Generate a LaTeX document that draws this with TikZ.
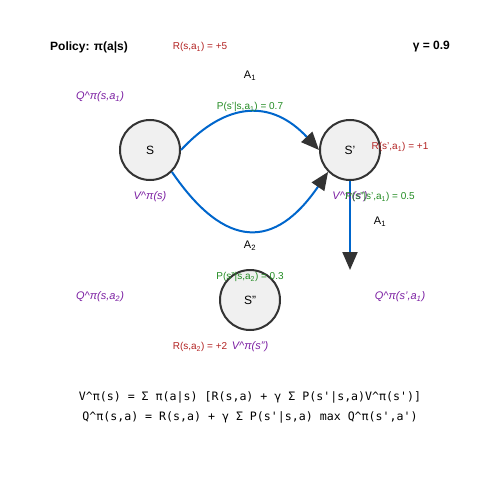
\documentclass[tikz,border=0pt]{standalone}
\usepackage{fontspec}
\setmainfont{Liberation Sans}
\newfontfamily\eqfont{DejaVu Sans Mono}
\usetikzlibrary{arrows.meta}
\definecolor{stategray}{HTML}{F0F0F0}
\definecolor{edgegray}{HTML}{333333}
\definecolor{flowblue}{HTML}{0066CC}
\definecolor{rewardred}{HTML}{B22222}
\definecolor{probgreen}{HTML}{228B22}
\definecolor{valpurple}{HTML}{7B1FA2}

\begin{document}
\begin{tikzpicture}[x=1pt,y=-1pt]
\useasboundingbox (0,0) rectangle (500,500);
\tikzset{State/.style ={circle, draw=edgegray, line width=2pt, fill=stategray,
  minimum size=60pt, inner sep=0pt, font=\fontsize{12}{14}\selectfont}}
\tikzset{Flow/.style ={draw=flowblue, line width=2pt,
  -{Triangle[length=18pt,width=15pt,color=edgegray]}}}
\tikzset{Reward/.style ={text=rewardred, font=\fontsize{10}{12}\selectfont, inner sep=0pt}}
\tikzset{Prob/.style ={text=probgreen, font=\fontsize{10}{12}\selectfont, inner sep=0pt}}
\tikzset{Value/.style ={text=valpurple, font=\fontsize{11}{13}\selectfont\itshape, inner sep=0pt}}
\tikzset{Act/.style ={text=black, font=\fontsize{11}{13}\selectfont, inner sep=0pt}}
\tikzset{Eq/.style ={inner sep=0pt, font=\eqfont\fontsize{11.6}{14}\selectfont}}
% header
\node[anchor=west, inner sep=0pt, font=\fontsize{12}{14}\selectfont\bfseries] (policy) at (50,47) {Policy: π(a|s)};
\node[anchor=east, inner sep=0pt, font=\fontsize{12}{14}\selectfont\bfseries] (gamma) at (450,47) {γ = 0.9};
\node[Reward] (r1) at (200,47) {R(s,a\textsubscript{1}) = +5};
% states
\node[State] (s) at (150,150) {S};
\node[State] (s1) at (350,150) {S'};
\node[State] (s2) at (250,300) {S"};
\coordinate (down) at (350,270);
% transitions
\draw[Flow] (s.east) .. controls +(46.7,-50) and +(-46.7,-50) .. (s1.west);
\draw[Flow] (s.-45) .. controls +(53.3,78) and +(-53.3,78) .. (s1.-135);
\draw[Flow] (s1.south) -- (down);
% labels
\node[Act] (a1) at (250,76) {A\textsubscript{1}};
\node[Act] (a2) at (250,246) {A\textsubscript{2}};
\node[Act] (a3) at (380,222) {A\textsubscript{1}};
\node[Prob] (p1) at (250,107) {P(s'|s,a\textsubscript{1}) = 0.7};
\node[Prob] (p2) at (250,277) {P(s"|s,a\textsubscript{2}) = 0.3};
\node[Reward] (r2) at (400,147) {R(s',a\textsubscript{1}) = +1};
\node[Reward] (r3) at (200,347) {R(s,a\textsubscript{2}) = +2};
\node[Value] (q1) at (100,97) {Q\^{}π(s,a\textsubscript{1})};
\node[Value] (q2) at (100,297) {Q\^{}π(s,a\textsubscript{2})};
\node[Value] (q3) at (400,297) {Q\^{}π(s',a\textsubscript{1})};
\node[Value] (v1) at (150,197) {V\^{}π(s)};
\node[Value] (v2) at (350,197) {V\^{}π(s')};
\node[Prob] (p3) at (380,197) {P(s"|s',a\textsubscript{1}) = 0.5};
\node[Value] (v3) at (250,347) {V\^{}π(s")};
% Bellman equations
\node[Eq] (bellv) at (250,397) {V\^{}π(s) = Σ π(a|s) [R(s,a) + γ Σ P(s'|s,a)V\^{}π(s')]};
\node[Eq] (bellq) at (250,417) {Q\^{}π(s,a) = R(s,a) + γ Σ P(s'|s,a) max Q\^{}π(s',a')};
\end{tikzpicture}
\end{document}
